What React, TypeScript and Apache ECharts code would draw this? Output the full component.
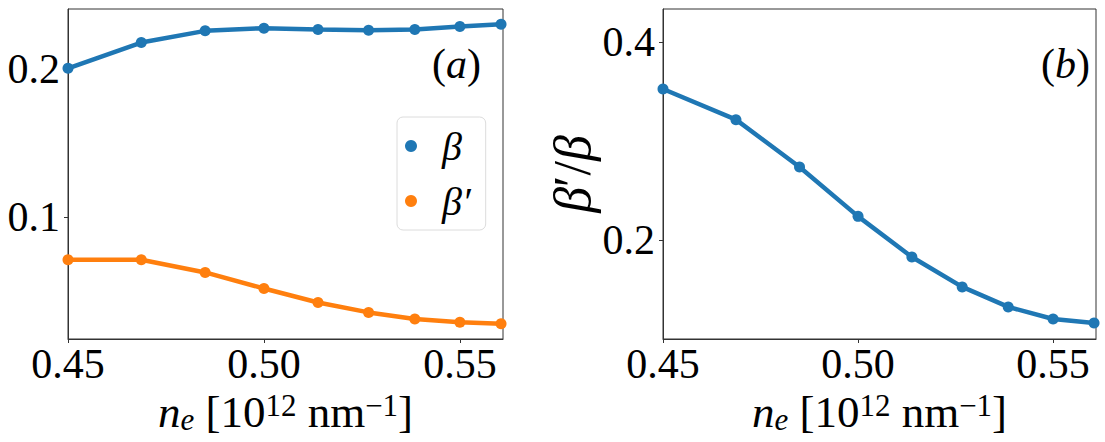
import React, { useEffect, useRef } from "react";
import * as echarts from "echarts";

const ne = [0.45, 0.4687, 0.485, 0.5, 0.5138, 0.5267, 0.5385, 0.55, 0.5605];
const beta = [0.2004, 0.2177, 0.2256, 0.2274, 0.2265, 0.226, 0.2265, 0.2285, 0.23];
const betaPrime = [0.0715, 0.0715, 0.063, 0.0522, 0.0428, 0.0361, 0.0316, 0.0294, 0.0285];
const ratio = [0.3529, 0.3219, 0.2741, 0.2242, 0.1832, 0.1529, 0.1327, 0.1205, 0.1165];
const xTicks = [0.45, 0.5, 0.55];
const yTicksA = [0.1, 0.2];
const yTicksB = [0.2, 0.4];
const legendNames = ["β", "β′"];

const FONT = "'Liberation Serif', 'DejaVu Serif', serif";
const BLUE = "#1f77b4";
const ORANGE = "#ff7f0e";
const AX = "#333333";

const pairs = (xs: number[], ys: number[]) => xs.map((x, i) => [x, ys[i]]);

export default function App() {
  const ref = useRef<HTMLDivElement>(null);
  useEffect(() => {
    if (!ref.current) return;
    const chart = echarts.init(ref.current, undefined, { renderer: "svg" });
    const xAxisBase = (gridIndex: number) => ({
      type: "value",
      gridIndex,
      min: 0.45,
      max: 0.561,
      name: "{it|n}{sub|e}{r| [10}{sup|12}{r| nm}{sup|−1}{r|]}",
      nameLocation: "middle",
      nameGap: 45,
      nameTextStyle: {
        fontFamily: FONT,
        fontSize: 45,
        color: "#000",
        lineHeight: 56,
        rich: {
          it: { fontFamily: FONT, fontSize: 45, fontStyle: "italic", color: "#000", lineHeight: 45 },
          r: { fontFamily: FONT, fontSize: 45, color: "#000", lineHeight: 45 },
          sub: { fontFamily: FONT, fontSize: 31, fontStyle: "italic", color: "#000", lineHeight: 31, verticalAlign: "bottom" },
          sup: { fontFamily: FONT, fontSize: 31, color: "#000", lineHeight: 31, verticalAlign: "top" },
        },
      },
      axisLine: { show: true, onZero: false, lineStyle: { color: AX, width: 1 } },
      axisTick: { show: true, inside: false, length: 4, customValues: xTicks, lineStyle: { color: AX } },
      axisLabel: {
        customValues: xTicks,
        formatter: (v: number) => v.toFixed(2),
        fontFamily: FONT,
        fontSize: 42,
        color: "#000",
        margin: 4,
      },
      splitLine: { show: false },
    });
    const yAxisBase = (gridIndex: number, min: number, max: number, ticks: number[]) => ({
      type: "value",
      gridIndex,
      min,
      max,
      axisLine: { show: true, onZero: false, lineStyle: { color: AX, width: 1 } },
      axisTick: { show: true, inside: false, length: 4, customValues: ticks, lineStyle: { color: AX } },
      axisLabel: {
        customValues: ticks,
        formatter: (v: number) => v.toFixed(1),
        fontFamily: FONT,
        fontSize: 42,
        color: "#000",
        margin: 8,
      },
      splitLine: { show: false },
    });
    const lineSeries = (name: string, data: number[][], color: string, idx: number) => ({
      type: "line",
      name,
      xAxisIndex: idx,
      yAxisIndex: idx,
      data,
      symbol: "circle",
      symbolSize: 11,
      showSymbol: true,
      itemStyle: { color },
      lineStyle: { color, width: 4.5 },
      clip: true,
    });
    const yB = yAxisBase(1, 0.1003, 0.4337, yTicksB) as any;
    yB.name = "{i|β}{r|′/}{i|β}";
    yB.nameLocation = "middle";
    yB.nameRotate = 90;
    yB.nameGap = 64;
    yB.nameTextStyle = {
      fontFamily: FONT,
      fontSize: 52,
      color: "#000",
      rich: {
        i: { fontFamily: FONT, fontSize: 52, fontStyle: "italic", color: "#000" },
        r: { fontFamily: FONT, fontSize: 52, color: "#000" },
      },
    };
    chart.setOption({
      animation: false,
      backgroundColor: "#ffffff",
      grid: [
        { left: 68, top: 9, width: 435, height: 330, show: true, borderColor: AX, borderWidth: 1, backgroundColor: "transparent" },
        { left: 663, top: 9, width: 433, height: 330, show: true, borderColor: AX, borderWidth: 1, backgroundColor: "transparent" },
      ],
      xAxis: [xAxisBase(0), xAxisBase(1)],
      yAxis: [yAxisBase(0, 0.0182, 0.2403, yTicksA), yB],
      legend: {
        data: legendNames,
        orient: "vertical",
        left: 397,
        top: 117,
        icon: "circle",
        itemWidth: 12,
        itemHeight: 12,
        itemGap: 15,
        padding: [9, 15, 9, 8],
        backgroundColor: "#ffffff",
        borderColor: "#dcdcdc",
        borderWidth: 1,
        borderRadius: 6,
        textStyle: {
          fontFamily: FONT,
          fontSize: 40,
          fontStyle: "italic",
          color: "#000",
          lineHeight: 40,
          padding: [0, 0, 0, 20],
        },
      },
      graphic: [
        {
          type: "text",
          left: 432,
          top: 43,
          style: {
            text: "{r|(}{i|a}{r|)}",
            rich: {
              r: { fontFamily: FONT, fontSize: 42, fill: "#000" },
              i: { fontFamily: FONT, fontSize: 42, fontStyle: "italic", fill: "#000" },
            },
          },
        },
        {
          type: "text",
          left: 1041,
          top: 43,
          style: {
            text: "{r|(}{i|b}{r|)}",
            rich: {
              r: { fontFamily: FONT, fontSize: 42, fill: "#000" },
              i: { fontFamily: FONT, fontSize: 42, fontStyle: "italic", fill: "#000" },
            },
          },
        },
      ],
      series: [
        lineSeries(legendNames[0], pairs(ne, beta), BLUE, 0),
        lineSeries(legendNames[1], pairs(ne, betaPrime), ORANGE, 0),
        lineSeries("β′/β", pairs(ne, ratio), BLUE, 1),
      ],
    });
    return () => chart.dispose();
  }, []);
  return (
    <div
      ref={ref}
      style={{ position: "absolute", left: 0, top: 0, width: 1105, height: 442, background: "#fff" }}
    />
  );
}
